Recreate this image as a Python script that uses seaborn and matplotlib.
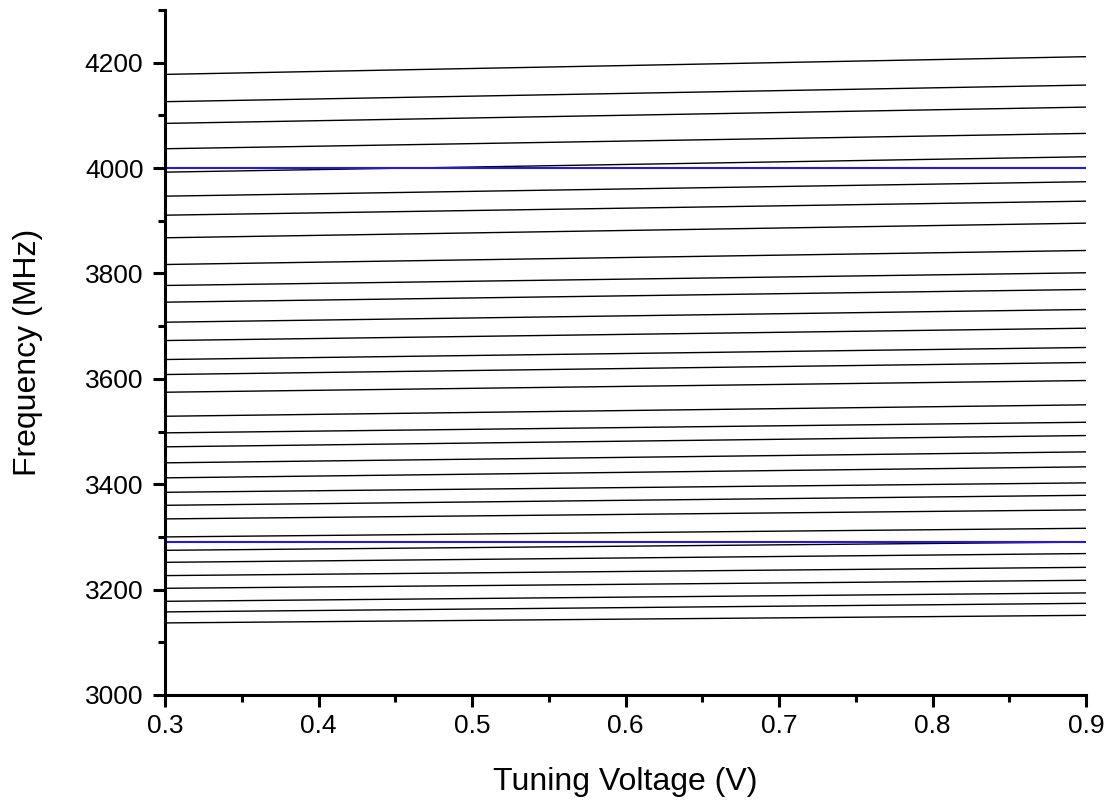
import numpy as np
import pandas as pd
import matplotlib
matplotlib.use("Agg")
import matplotlib.pyplot as plt
import seaborn as sns
from matplotlib.ticker import MultipleLocator

sns.set_theme(style="ticks")
plt.rcParams['font.family'] = ['Liberation Sans', 'DejaVu Sans']
plt.rcParams['text.color'] = 'black'
plt.rcParams['axes.labelcolor'] = 'black'

# Tuning voltage endpoints (V)
voltage = [0.3, 0.9]

# Frequency of each tuning curve at 0.3 V and at 0.9 V (MHz)
freq_start = [4177.8, 4126.0, 4084.8, 4036.7, 3992.3, 3946.7, 3910.6, 3867.7,
              3817.0, 3777.2, 3745.5, 3707.5, 3672.7, 3636.7, 3608.2, 3574.6,
              3529.0, 3497.5, 3471.0, 3440.6, 3412.1, 3384.7, 3360.0, 3334.2,
              3300.0, 3274.6, 3251.8, 3226.6, 3202.5, 3177.8, 3157.7, 3136.8]
freq_end = [4211.4, 4157.5, 4115.7, 4065.8, 4021.5, 3974.1, 3937.2, 3895.5,
            3843.6, 3801.3, 3769.6, 3731.6, 3696.1, 3659.5, 3631.0, 3596.8,
            3550.7, 3517.6, 3492.4, 3461.4, 3433.0, 3402.6, 3379.0, 3351.3,
            3316.4, 3290.2, 3268.4, 3242.3, 3217.7, 3193.7, 3174.0, 3151.2]

# Horizontal band limits (blue) in MHz
band_limits = [4000.0, 3290.0]

rows = []
for i, (a, b) in enumerate(zip(freq_start, freq_end)):
    rows.append({"curve": i, "V": voltage[0], "f": a})
    rows.append({"curve": i, "V": voltage[1], "f": b})
df = pd.DataFrame(rows)

brows = []
for j, f in enumerate(band_limits):
    for v in voltage:
        brows.append({"band": j, "V": v, "f": f})
dfb = pd.DataFrame(brows)

fig = plt.figure(figsize=(11.09, 8), dpi=100)
ax = fig.add_axes([0.1488, 0.13125, 0.9793 - 0.1488, 0.9875 - 0.13125])

sns.lineplot(data=df, x="V", y="f", units="curve", estimator=None,
             color="black", lw=1.0, ax=ax, legend=False)
sns.lineplot(data=dfb, x="V", y="f", units="band", estimator=None,
             color="#2a18d8", lw=1.5, ax=ax, legend=False)

ax.set_xlim(0.3, 0.9)
ax.set_ylim(3000, 4300)
ax.xaxis.set_minor_locator(MultipleLocator(0.05))
ax.yaxis.set_minor_locator(MultipleLocator(100))
ax.set_xticks([0.3, 0.4, 0.5, 0.6, 0.7, 0.8, 0.9])
ax.set_xticklabels(["0.3", "0.4", "0.5", "0.6", "0.7", "0.8", "0.9"])
ax.set_yticks([3000, 3200, 3400, 3600, 3800, 4000, 4200])

for s in ["top", "right"]:
    ax.spines[s].set_visible(False)
for s in ["left", "bottom"]:
    ax.spines[s].set_linewidth(2.2)
    ax.spines[s].set_color("black")

ax.tick_params(axis="both", which="major", direction="out", length=8.5,
               width=2.2, labelsize=19, colors="black")
ax.tick_params(axis="both", which="minor", direction="out", length=5,
               width=2.2, colors="black")
ax.tick_params(axis="y", which="major", pad=7)
ax.tick_params(axis="x", which="major", pad=5)

ax.set_xlabel("Tuning Voltage (V)", fontsize=23, labelpad=21, color="black")
ax.set_ylabel("Frequency (MHz)", fontsize=23, labelpad=30, color="black")
ax.grid(False)

fig.savefig("out.png", dpi=100, facecolor="white")
